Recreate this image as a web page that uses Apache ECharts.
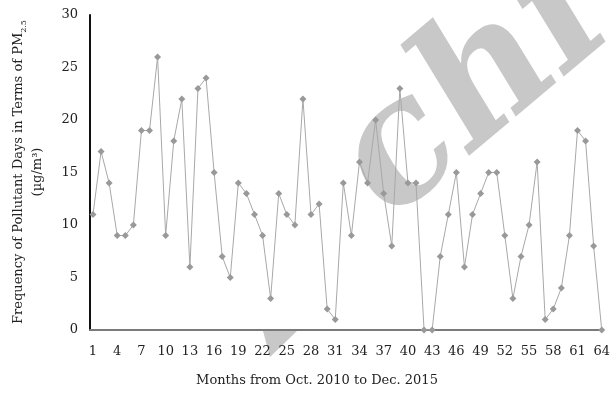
<!DOCTYPE html>
<html>
<head>
<meta charset="utf-8">
<script src="https://cdn.jsdelivr.net/npm/echarts@6/dist/echarts.min.js"></script>
<style>html,body{margin:0;padding:0;background:#fff}#c{width:613px;height:394px}</style>
</head>
<body>
<div id="c"></div>
<script>
var months = [];
for (var i = 1; i <= 64; i++) months.push(i);
var pollutantDays = [11,17,14,9,9,10,19,19,26,9,18,22,6,23,24,15,7,5,14,13,11,9,3,13,11,10,22,11,12,2,1,14,9,16,14,20,13,8,23,14,14,0,0,7,11,15,6,11,13,15,15,9,3,7,10,16,1,2,4,9,19,18,8,0];
var xTickLabels = [1,4,7,10,13,16,19,22,25,28,31,34,37,40,43,46,49,52,55,58,61,64];
var yTickLabels = [0,5,10,15,20,25,30];
var xTitle = 'Months from Oct. 2010 to Dec. 2015';
var yTitleLine1 = 'Frequency of Pollutant Days in Terms of PM';
var yTitleSub = '2.5';
var yTitleLine2 = '(µg/m³)';
var watermark = 'chi';

var serif = '"DejaVu Serif", "Liberation Serif", serif';
var chart = echarts.init(document.getElementById('c'), null, {renderer: 'canvas'});
chart.setOption({
  animation: false,
  backgroundColor: '#fff',
  grid: {left: 90, right: 8, top: 15, bottom: 64},
  graphic: [
    {type: 'group', z: 0, x: 362, y: 188, rotation: 40 * Math.PI / 180,
     children: [
       {type: 'text', z: 0, x: 0, y: 0, skewX: -0.15,
        style: {text: watermark, font: 'bold 170px "DejaVu Serif"', fill: '#c8c8c8', textAlign: 'left', textVerticalAlign: 'middle'}}
     ]},
    {type: 'polygon', z: 0, shape: {points: [[263, 331], [297, 331], [270, 357]]}, style: {fill: '#c8c8c8'}},
    {type: 'text', z: 10, x: 317, y: 381,
     style: {text: xTitle, font: '13px ' + serif, fill: '#222', textAlign: 'center', textVerticalAlign: 'middle'}},
    {type: 'text', z: 10, x: 28, y: 172, rotation: Math.PI / 2,
     style: {
       text: '{a|' + yTitleLine1 + '}{s|' + yTitleSub + '}\n{a|' + yTitleLine2 + '}',
       textAlign: 'center', textVerticalAlign: 'middle', fill: '#222',
       rich: {
         a: {font: '13px ' + serif, fill: '#222', lineHeight: 19},
         s: {font: '8px ' + serif, fill: '#222', lineHeight: 19, verticalAlign: 'bottom', padding: [6, 0, 0, 0]}
       }
     }}
  ],
  xAxis: {
    type: 'value', min: 0.63, max: 64.12,
    axisLine: {show: true, onZero: false, lineStyle: {color: '#7a7a7a', width: 2}},
    axisTick: {show: false},
    splitLine: {show: false},
    axisLabel: {customValues: xTickLabels, margin: 15, color: '#222', fontFamily: serif, fontSize: 13}
  },
  yAxis: {
    type: 'value', min: 0, max: 30, interval: 5,
    axisLine: {show: true, lineStyle: {color: '#111', width: 2}},
    axisTick: {show: false},
    splitLine: {show: false},
    axisLabel: {margin: 12, color: '#222', fontFamily: serif, fontSize: 13,
      formatter: function (v) { return yTickLabels.indexOf(v) >= 0 ? String(v) : ''; }}
  },
  series: [{
    type: 'line',
    data: months.map(function (m, i) { return [m, pollutantDays[i]]; }),
    symbol: 'diamond', symbolSize: 7,
    lineStyle: {color: '#a8a8a8', width: 1},
    itemStyle: {color: '#999'},
    z: 3
  }]
});
</script>
</body>
</html>
